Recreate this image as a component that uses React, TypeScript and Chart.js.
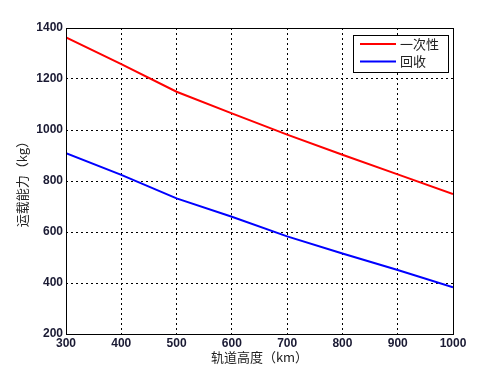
import React, { useEffect, useRef } from "react";
import { Chart, registerables } from "chart.js";

Chart.register(...registerables);

const altitudes = [300, 400, 500, 600, 700, 800, 900, 1000];
const oneTime = [1363, 1258, 1150, 1065, 982, 903, 826, 749];
const recovery = [909, 824, 732, 660, 583, 516, 451, 383];
const seriesNames = ["一次性", "回收"];
const xTitle = "轨道高度（km）";
const yTitle = "运载能力（kg）";

const tickFont = { family: "'Liberation Sans', Arial, sans-serif", size: 12, weight: "bold" };
const cjkFont = { family: "'Noto Sans CJK SC', sans-serif", size: 13 };

const boxPlugin = {
  id: "boxAndLegend",
  afterDraw(chart: any) {
    const { ctx, chartArea } = chart;
    ctx.save();
    ctx.strokeStyle = "#000";
    ctx.lineWidth = 1;
    ctx.setLineDash([]);
    ctx.strokeRect(
      Math.round(chartArea.left) + 0.5,
      Math.round(chartArea.top) + 0.5,
      Math.round(chartArea.right - chartArea.left),
      Math.round(chartArea.bottom - chartArea.top)
    );
    // legend
    const lx = 353.5, ly = 35.5, lw = 95, lh = 37;
    ctx.fillStyle = "#fff";
    ctx.fillRect(lx, ly, lw, lh);
    ctx.strokeRect(lx, ly, lw, lh);
    ctx.font = `13px ${cjkFont.family}`;
    ctx.textBaseline = "middle";
    ctx.textAlign = "left";
    chart.data.datasets.forEach((ds: any, i: number) => {
      const y = 44 + i * 17.5;
      ctx.strokeStyle = ds.borderColor;
      ctx.lineWidth = 2;
      ctx.beginPath();
      ctx.moveTo(360, y);
      ctx.lineTo(396, y);
      ctx.stroke();
      ctx.fillStyle = "#222";
      ctx.fillText(ds.label, 400, y);
    });
    ctx.restore();
  },
};

export default function App() {
  const ref = useRef<HTMLCanvasElement>(null);
  useEffect(() => {
    const chart = new Chart(ref.current as HTMLCanvasElement, {
      type: "line",
      data: {
        datasets: [
          {
            label: seriesNames[0],
            data: altitudes.map((x, i) => ({ x, y: oneTime[i] })),
            borderColor: "#ff0000",
            borderWidth: 2,
            pointRadius: 0,
            fill: false,
          },
          {
            label: seriesNames[1],
            data: altitudes.map((x, i) => ({ x, y: recovery[i] })),
            borderColor: "#0000ff",
            borderWidth: 2,
            pointRadius: 0,
            fill: false,
          },
        ],
      },
      options: {
        animation: false,
        responsive: false,
        maintainAspectRatio: false,
        layout: { padding: { left: 0, right: 47, top: 28, bottom: 0 } },
        plugins: { legend: { display: false }, tooltip: { enabled: false } },
        scales: {
          x: {
            type: "linear",
            min: 300,
            max: 1000,
            afterFit: (s: any) => { s.height = 41; },
            ticks: { stepSize: 100, font: tickFont, color: "#1a1a33", padding: 2, maxRotation: 0, callback: (v: any) => String(v) },
            grid: { color: "#000", lineWidth: 1, drawTicks: false },
            border: { display: false, dash: [2, 3] },
            title: { display: true, text: xTitle, font: cjkFont, color: "#222", padding: { top: 0, bottom: 10 } },
          },
          y: {
            type: "linear",
            min: 200,
            max: 1400,
            afterFit: (s: any) => { s.width = 66; },
            ticks: { stepSize: 200, font: tickFont, color: "#1a1a33", padding: 3, callback: (v: any) => String(v) },
            grid: { color: "#000", lineWidth: 1, drawTicks: false },
            border: { display: false, dash: [2, 3] },
            title: { display: true, text: yTitle, font: cjkFont, color: "#222", padding: { top: 14, bottom: 0 } },
          },
        },
      },
      plugins: [boxPlugin],
    } as any);
    return () => chart.destroy();
  }, []);
  return (
    <div style={{ position: "absolute", left: 0, top: 0, width: 500, height: 375, background: "#fff" }}>
      <canvas ref={ref} width={500} height={375} style={{ width: 500, height: 375 }} />
    </div>
  );
}
